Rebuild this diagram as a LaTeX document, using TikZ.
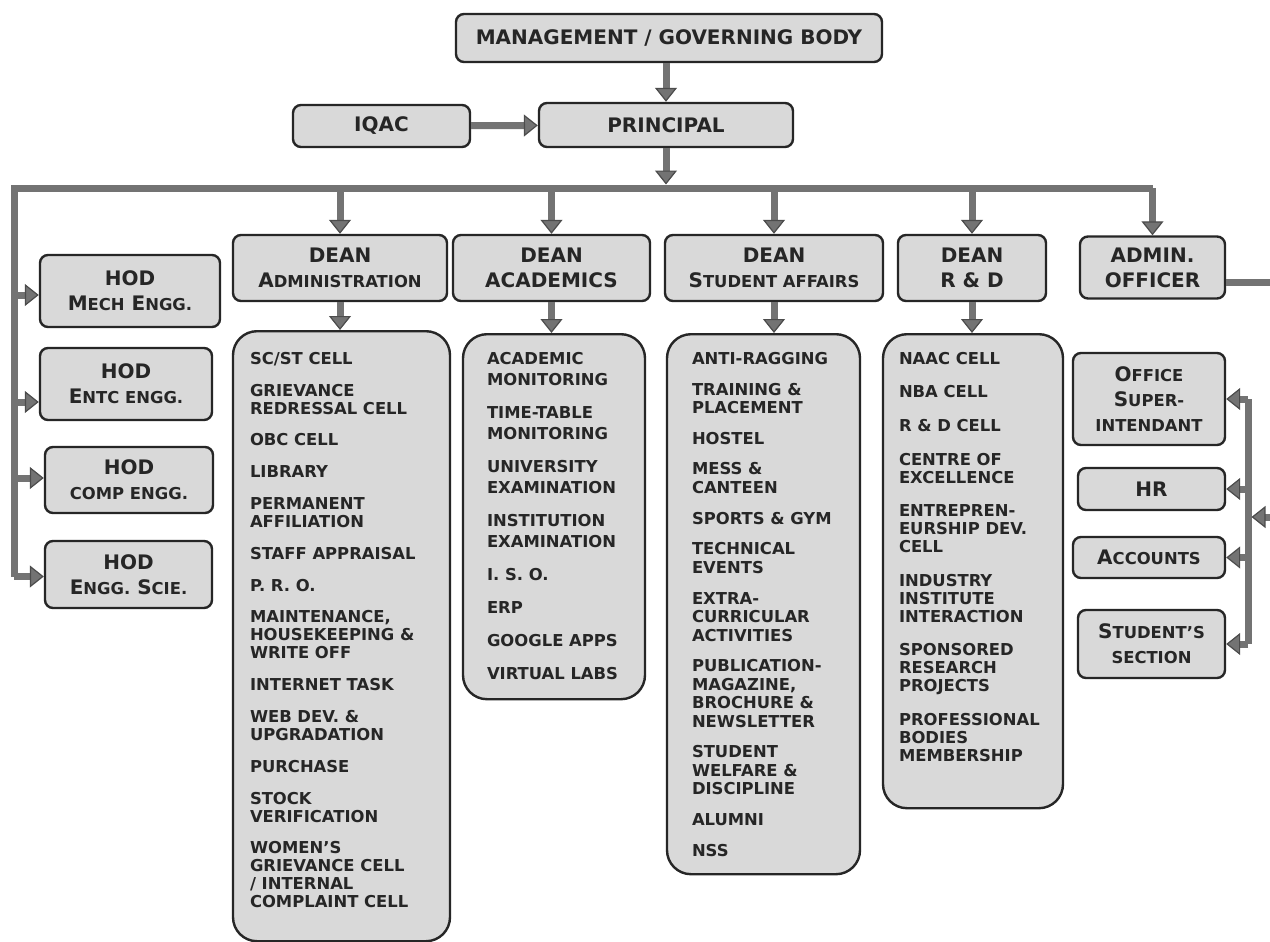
\documentclass[tikz,border=0pt]{standalone}
\usepackage{fontspec}
\setmainfont{DejaVu Sans}
\usetikzlibrary{arrows.meta}
\newcommand\bigtxt{\fontsize{10}{12.5}\selectfont}
\newcommand\smtxt{\fontsize{8.2}{9}\selectfont}
\newcommand\ttl[2]{#1{\smtxt #2}}
\newcommand\listtext[5]{\hspace*{#1}\parbox[t][#2][t]{#3}{\raggedright\fontsize{8.2}{#4}\selectfont #5}}
\tikzset{
  box/.style={draw=black!85, line width=1.2pt, fill=black!15, rounded corners=4pt,
    align=center, inner sep=0pt, font=\bfseries\bigtxt, text=black!85},
  listbox/.style={box, rounded corners=12pt, anchor=north, inner xsep=0pt, inner ysep=9pt},
  bar/.style={draw=black!55, line width=3.5pt},
  arr/.style={bar, -{Triangle[width=11pt,length=7pt,line width=0.6pt,fill=black!55,color=black!70]}}
}
\begin{document}
\begin{tikzpicture}[x=0.5pt,y=-0.5pt]
	\fill[white] (0,0) rectangle (1270,942);
	\useasboundingbox (0,0) rectangle (1270,942);
	% top
	\node[box, minimum width=213pt, minimum height=24pt] (mgmt) at (669,38) {MANAGEMENT / GOVERNING BODY};
	\node[box, minimum width=88.5pt, minimum height=21pt] (iqac) at (381.5,126) {IQAC};
	\node[box, minimum width=127pt, minimum height=22pt] (prin) at (666,125) {PRINCIPAL};
	% deans
	\node[box, minimum width=107pt, minimum height=33pt] (dadm) at (340,268) {DEAN\\\ttl{A}{DMINISTRATION}};
	\node[box, minimum width=98.5pt, minimum height=33pt] (dacad) at (551.5,268) {DEAN\\ACADEMICS};
	\node[box, minimum width=109pt, minimum height=33pt] (dsa) at (774,268) {DEAN\\\ttl{S}{TUDENT AFFAIRS}};
	\node[box, minimum width=74pt, minimum height=33pt] (drd) at (972,268) {DEAN\\R \& D};
	\node[box, minimum width=72.5pt, minimum height=31pt] (aoff) at (1152.5,267.5) {ADMIN.\\OFFICER};
	% hods
	\node[box, minimum width=90pt, minimum height=36pt] (hod1) at (130,291) {HOD\\\ttl{M}{ECH} \ttl{E}{NGG.}};
	\node[box, minimum width=86pt, minimum height=36pt] (hod2) at (126,384) {HOD\\\ttl{E}{NTC ENGG.}};
	\node[box, minimum width=84pt, minimum height=33pt] (hod3) at (129,480) {HOD\\{\smtxt COMP ENGG.}};
	\node[box, minimum width=83.5pt, minimum height=33.5pt] (hod4) at (128.5,574.5) {HOD\\\ttl{E}{NGG.} \ttl{S}{CIE.}};
	% admin office
	\node[box, minimum width=76pt, minimum height=46pt] (osup) at (1149,399) {\ttl{O}{FFICE}\\\ttl{S}{UPER-}\\{\smtxt INTENDANT}};
	\node[box, minimum width=73.5pt, minimum height=21pt] (hr) at (1151.5,489) {HR};
	\node[box, minimum width=76pt, minimum height=20.5pt] (acc) at (1149,557.5) {\ttl{A}{CCOUNTS}};
	\node[box, minimum width=73.5pt, minimum height=34pt] (stud) at (1151.5,644) {\ttl{S}{TUDENT’S}\\{\smtxt SECTION}};
	% lists
	\node[listbox, inner ysep=10.5pt] (ladm) at (341.5,330) {\listtext{8.5pt}{284pt}{100pt}{9pt}{%
		SC/ST CELL\\[6.9pt]
		GRIEVANCE\\REDRESSAL CELL\\[6.9pt]
		OBC CELL\\[6.9pt]
		LIBRARY\\[6.9pt]
		PERMANENT\\AFFILIATION\\[6.9pt]
		STAFF APPRAISAL\\[6.9pt]
		P. R. O.\\[6.9pt]
		MAINTENANCE,\\HOUSEKEEPING \&\\WRITE OFF\\[6.9pt]
		INTERNET TASK\\[6.9pt]
		WEB DEV. \&\\UPGRADATION\\[6.9pt]
		PURCHASE\\[6.9pt]
		STOCK\\VERIFICATION\\[6.9pt]
		WOMEN’S\\GRIEVANCE CELL\\/ INTERNAL\\COMPLAINT CELL}};
	\node[listbox] (lacad) at (554,333) {\listtext{12pt}{164.5pt}{79pt}{10.5pt}{%
		ACADEMIC\\MONITORING\\[6pt]
		TIME-TABLE\\MONITORING\\[6pt]
		UNIVERSITY\\EXAMINATION\\[6pt]
		INSTITUTION\\EXAMINATION\\[6pt]
		I. S. O.\\[6pt]
		ERP\\[6pt]
		GOOGLE APPS\\[6pt]
		VIRTUAL LABS}};
	\node[listbox] (lsa) at (763.5,333) {\listtext{12.5pt}{252pt}{84pt}{9.25pt}{%
		ANTI-RAGGING\\[6.1pt]
		TRAINING \&\\PLACEMENT\\[6.1pt]
		HOSTEL\\[6.1pt]
		MESS \&\\CANTEEN\\[6.1pt]
		SPORTS \& GYM\\[6.1pt]
		TECHNICAL\\EVENTS\\[6.1pt]
		EXTRA-\\CURRICULAR\\ACTIVITIES\\[6.1pt]
		PUBLICATION-\\MAGAZINE,\\BROCHURE \&\\NEWSLETTER\\[6.1pt]
		STUDENT\\WELFARE \&\\DISCIPLINE\\[6.1pt]
		ALUMNI\\[6.1pt]
		NSS}};
	\node[listbox] (lrd) at (973,333) {\listtext{8pt}{219pt}{82pt}{9pt}{%
		NAAC CELL\\[7.8pt]
		NBA CELL\\[7.8pt]
		R \& D CELL\\[7.8pt]
		CENTRE OF\\EXCELLENCE\\[7.8pt]
		ENTREPREN-\\EURSHIP DEV.\\CELL\\[7.8pt]
		INDUSTRY\\INSTITUTE\\INTERACTION\\[7.8pt]
		SPONSORED\\RESEARCH\\PROJECTS\\[7.8pt]
		PROFESSIONAL\\BODIES\\MEMBERSHIP}};
	% connectors
	\coordinate (bus) at (666,188);
	\coordinate (lbar) at (14,188);
	\coordinate (rbar) at (1248,517);
	\coordinate (redge) at (1270,517);
	\draw[arr] (prin.north |- mgmt.south) -- (prin.north);
	\draw[arr] (iqac) -- (prin);
	\draw[arr, shorten >=1.75pt] (prin.south) -- (bus);
	\draw[bar] ([yshift=-1pt]hod4.west -| lbar) -- (lbar) -- (aoff.north |- bus);
	\foreach \n in {dadm,dacad,dsa,drd,aoff}
		\draw[arr] (\n.north |- bus) -- (\n.north);
	\foreach \n/\s in {hod1/-2,hod2/-9,hod3/1,hod4/-1}
		\draw[arr] ([yshift=\s pt]\n.west -| lbar) -- ([yshift=\s pt]\n.west);
	\draw[arr] (dadm.south) -- (dadm.south |- ladm.north);
	\draw[arr] (dacad.south) -- (dacad.south |- lacad.north);
	\draw[arr] (dsa.south) -- (dsa.south |- lsa.north);
	\draw[arr] (drd.south) -- (drd.south |- lrd.north);
	\draw[bar] ([yshift=-7.5pt]aoff.east) -- ([yshift=-7.5pt]aoff.east -| redge);
	\draw[bar] (osup.east -| rbar) -- (stud.east -| rbar);
	\foreach \n in {osup,hr,acc,stud}
		\draw[arr] (\n.east -| rbar) -- (\n.east);
	\draw[arr, shorten >=1.75pt] (redge) -- (rbar);
\end{tikzpicture}
\end{document}
